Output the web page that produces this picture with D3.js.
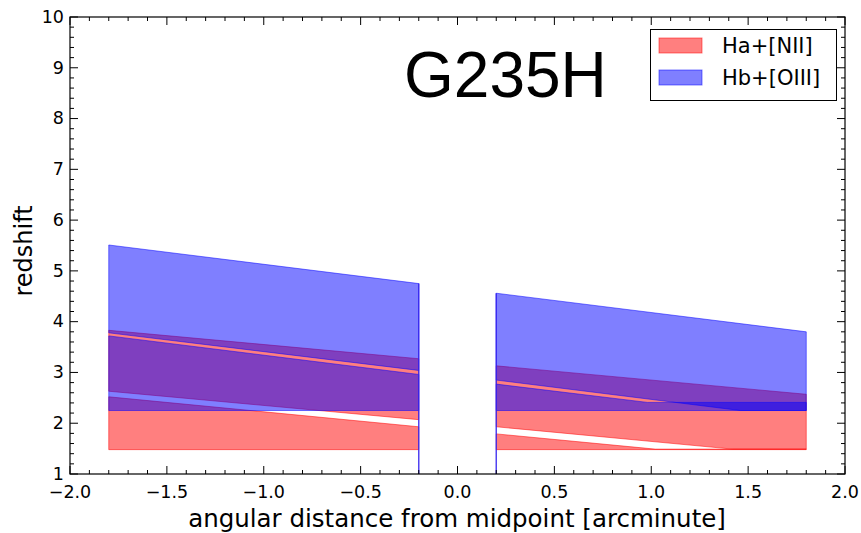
<!DOCTYPE html>
<html>
<head>
<meta charset="utf-8">
<script src="https://cdn.jsdelivr.net/npm/d3@7"></script>
<style>
  body { margin: 0; background: #fff; }
  svg { display: block; }
  text { font-family: "DejaVu Sans", sans-serif; fill: #000; }
</style>
</head>
<body>
<svg id="chart" width="861" height="533"></svg>
<script>
// Axis ranges and tick labels
const xDomain = [-2, 2];
const yDomain = [1, 10];
const xTickValues = [-2.0, -1.5, -1.0, -0.5, 0.0, 0.5, 1.0, 1.5, 2.0];
const xTickLabels = ["\u22122.0", "\u22121.5", "\u22121.0", "\u22120.5", "0.0", "0.5", "1.0", "1.5", "2.0"];
const yTickValues = [1, 2, 3, 4, 5, 6, 7, 8, 9, 10];
const yTickLabels = ["1", "2", "3", "4", "5", "6", "7", "8", "9", "10"];

// Legend entries
const seriesNames = ["Ha+[NII]", "Hb+[OIII]"];
const seriesColors = ["#ff0000", "#0000ff"];

// Redshift coverage bands: each edge is a list of [offset (arcmin), redshift] vertices
// Ha+[NII] (detector 1 and detector 2, both slit halves)
const haBands = [
  { lo: [[-1.8, 1.48], [-0.2, 1.48]], hi: [[-1.8, 2.52], [-0.2, 1.93]] },
  { lo: [[-1.8, 2.63], [-0.2, 2.07]], hi: [[-1.8, 3.83], [-0.2, 3.27]] },
  { lo: [[0.2, 1.48], [1.8, 1.48]], hi: [[0.2, 1.79], [1.02, 1.49], [1.8, 1.49]] },
  { lo: [[0.2, 1.93], [1.42, 1.49], [1.8, 1.49]], hi: [[0.2, 3.13], [1.8, 2.57]] }
];
// Hb+[OIII]
const hbBands = [
  { lo: [[-1.8, 2.25], [-0.2, 2.25]], hi: [[-1.8, 3.72], [-0.2, 2.96]] },
  { lo: [[-1.8, 3.78], [-0.2, 3.04]], hi: [[-1.8, 5.51], [-0.2, 4.75]] },
  { lo: [[0.2, 2.25], [1.8, 2.25]], hi: [[0.2, 2.77], [0.98, 2.41], [1.8, 2.41]] },
  { lo: [[0.2, 2.85], [1.46, 2.25], [1.8, 2.25]], hi: [[0.2, 4.56], [1.8, 3.80]] }
];
// Inner slit edges either side of the central gap
const gapEdges = [-0.2, 0.2];
const gapTops = [4.75, 4.56];

const titleText = "G235H";
const xLabel = "angular distance from midpoint [arcminute]";
const yLabel = "redshift";

// Layout
const W = 861, H = 533;
const plot = { left: 70, right: 845, top: 17, bottom: 474 };

const svg = d3.select("#chart");
const x = d3.scaleLinear().domain(xDomain).range([plot.left, plot.right]);
const y = d3.scaleLinear().domain(yDomain).range([plot.bottom, plot.top]);

svg.append("defs").append("clipPath").attr("id", "plotClip")
  .append("rect")
  .attr("x", plot.left).attr("y", plot.top)
  .attr("width", plot.right - plot.left).attr("height", plot.bottom - plot.top);

const g = svg.append("g").attr("clip-path", "url(#plotClip)");
const line = d3.line().x(d => x(d[0])).y(d => y(d[1]));

function drawBands(bands, color) {
  g.selectAll(null).data(bands).enter().append("path")
    .attr("d", b => line(b.hi.concat(b.lo.slice().reverse())) + "Z")
    .attr("fill", color).attr("fill-opacity", 0.5)
    .attr("stroke", color).attr("stroke-opacity", 0.5).attr("stroke-width", 1);
}
drawBands(haBands, seriesColors[0]);
drawBands(hbBands, seriesColors[1]);

// Vertical edges at the gap
g.selectAll(null).data(gapEdges).enter().append("line")
  .attr("x1", d => x(d)).attr("x2", d => x(d))
  .attr("y1", (d, i) => y(gapTops[i])).attr("y2", y(yDomain[0]))
  .attr("stroke", "#3322ee").attr("stroke-opacity", 0.85).attr("stroke-width", 1.5);

// Axes frame with inward ticks on all sides
const axes = svg.append("g");
const majorLen = 8, minorLen = 4;
const xMinor = d3.range(-20, 21).map(v => v / 10).filter(v => Math.abs(v * 2 - Math.round(v * 2)) > 1e-6);
const yMinor = d3.range(5, 51).map(v => v / 5).filter(v => Math.abs(v - Math.round(v)) > 1e-6);

function ticksX(values, len) {
  values.forEach(v => {
    axes.append("line").attr("x1", x(v)).attr("x2", x(v))
      .attr("y1", plot.bottom).attr("y2", plot.bottom - len)
      .attr("stroke", "#000").attr("stroke-width", 1);
    axes.append("line").attr("x1", x(v)).attr("x2", x(v))
      .attr("y1", plot.top).attr("y2", plot.top + len)
      .attr("stroke", "#000").attr("stroke-width", 1);
  });
}
function ticksY(values, len) {
  values.forEach(v => {
    axes.append("line").attr("x1", plot.left).attr("x2", plot.left + len)
      .attr("y1", y(v)).attr("y2", y(v))
      .attr("stroke", "#000").attr("stroke-width", 1);
    axes.append("line").attr("x1", plot.right).attr("x2", plot.right - len)
      .attr("y1", y(v)).attr("y2", y(v))
      .attr("stroke", "#000").attr("stroke-width", 1);
  });
}
ticksX(xTickValues, majorLen);
ticksX(xMinor, minorLen);
ticksY(yTickValues, majorLen);
ticksY(yMinor, minorLen);

axes.append("rect")
  .attr("x", plot.left).attr("y", plot.top)
  .attr("width", plot.right - plot.left).attr("height", plot.bottom - plot.top)
  .attr("fill", "none").attr("stroke", "#000").attr("stroke-width", 1.2);

// Tick labels
svg.append("g").selectAll("text").data(xTickValues).enter().append("text")
  .attr("x", d => x(d)).attr("y", plot.bottom + 24)
  .attr("text-anchor", "middle").attr("font-size", 17.5)
  .text((d, i) => xTickLabels[i]);
svg.append("g").selectAll("text").data(yTickValues).enter().append("text")
  .attr("x", plot.left - 6).attr("y", d => y(d) + 5.8)
  .attr("text-anchor", "end").attr("font-size", 17.5)
  .text((d, i) => yTickLabels[i]);

// Axis titles
svg.append("text").attr("x", 457).attr("y", 527)
  .attr("text-anchor", "middle").attr("font-size", 24.5).text(xLabel);
svg.append("text").attr("transform", "translate(32,251) rotate(-90)")
  .attr("text-anchor", "middle").attr("font-size", 24).text(yLabel);

// Title inside the axes
svg.append("text").attr("x", 404).attr("y", 97)
  .style("font-family", "'Liberation Sans', Arial, sans-serif")
  .attr("font-size", 64).text(titleText);

// Legend
const leg = svg.append("g");
leg.append("rect").attr("x", 650.5).attr("y", 29.5).attr("width", 186).attr("height", 71)
  .attr("fill", "#fff").attr("stroke", "#000").attr("stroke-width", 1);
seriesNames.forEach((name, i) => {
  const yy = 38 + i * 32;
  leg.append("rect").attr("x", 659).attr("y", yy).attr("width", 43).attr("height", 15)
    .attr("fill", seriesColors[i]).attr("fill-opacity", 0.5)
    .attr("stroke", seriesColors[i]).attr("stroke-opacity", 0.5);
  leg.append("text").attr("x", 722).attr("y", yy + 15).attr("font-size", 21).text(name);
});
</script>
</body>
</html>
